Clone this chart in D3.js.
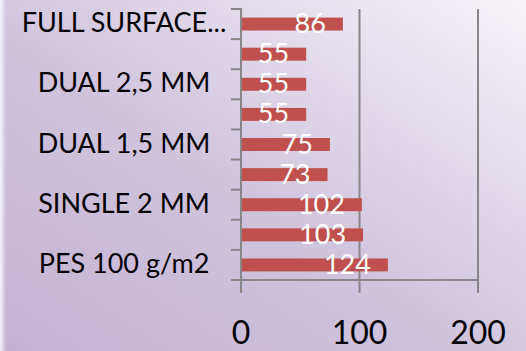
<!DOCTYPE html>
<html>
<head>
<meta charset="utf-8">
<script src="https://cdn.jsdelivr.net/npm/d3@7/dist/d3.min.js"></script>
<style>
  html, body { margin: 0; padding: 0; background: #fff; }
  svg { display: block; }
  text { font-family: Lato, "Open Sans", sans-serif; }
</style>
</head>
<body>
<svg id="chart" width="526" height="351"></svg>
<script>
// Categories listed bottom to top; only every other axis label is shown.
const categories = ["PES 100 g/m2", "", "SINGLE 2 MM", "", "DUAL 1,5 MM", "", "DUAL 2,5 MM", "", "FULL SURFACE..."];
const values = [124, 103, 102, 73, 75, 55, 55, 55, 86];
const xTicks = [0, 100, 200];

const W = 526, H = 351;
const svg = d3.select("#chart");

// Background: diagonal lavender gradient
const defs = svg.append("defs");
const bg = defs.append("linearGradient").attr("id", "bg")
  .attr("x1", "0").attr("y1", "1").attr("x2", "1").attr("y2", "0");
bg.append("stop").attr("offset", "0").attr("stop-color", "#c3b3d3");
bg.append("stop").attr("offset", "0.45").attr("stop-color", "#d0c4dd");
bg.append("stop").attr("offset", "1").attr("stop-color", "#f6f4f8");
svg.append("rect").attr("width", W).attr("height", H).attr("fill", "url(#bg)");

const edge = defs.append("linearGradient").attr("id", "edge")
  .attr("x1", "0").attr("y1", "0").attr("x2", "1").attr("y2", "0");
edge.append("stop").attr("offset", "0").attr("stop-color", "#f4f6fb").attr("stop-opacity", 0.95);
edge.append("stop").attr("offset", "1").attr("stop-color", "#ffffff").attr("stop-opacity", 0);
svg.append("rect").attr("width", 6).attr("height", H).attr("fill", "url(#edge)");

const plot = { left: 241, right: 478, top: 9, bottom: 280 };

const x = d3.scaleLinear().domain([0, 200]).range([plot.left, plot.right]);
const idx = d3.range(categories.length);
const y = d3.scaleBand().domain(idx.slice().reverse())
  .range([plot.top, plot.bottom]).paddingInner(0.57).paddingOuter(0.285);
const step = y.step();

const axisColor = "#878787";

// Vertical gridlines
svg.append("g").selectAll("line").data(xTicks.filter(t => t > 0)).join("line")
  .attr("x1", d => x(d)).attr("x2", d => x(d))
  .attr("y1", plot.top).attr("y2", plot.bottom)
  .attr("stroke", axisColor).attr("stroke-width", 2);

// Bars
svg.append("g").selectAll("rect").data(idx).join("rect")
  .attr("x", x(0))
  .attr("y", i => y(i))
  .attr("width", i => x(values[i]) - x(0))
  .attr("height", y.bandwidth())
  .attr("fill", "#c0504d");

// Value labels
svg.append("g").selectAll("text").data(idx).join("text")
  .attr("x", i => x(values[i]) - 17)
  .attr("y", i => y(i) + y.bandwidth() / 2 + 9)
  .attr("text-anchor", "end")
  .attr("fill", "#ffffff")
  .attr("font-size", 27)
  .text(i => values[i]);

// Category axis with ticks at band boundaries
const boundaries = d3.range(categories.length + 1).map(k => plot.top + k * step);
svg.append("g").selectAll("line").data(boundaries).join("line")
  .attr("x1", plot.left - 10).attr("x2", plot.left)
  .attr("y1", d => d).attr("y2", d => d)
  .attr("stroke", axisColor).attr("stroke-width", 2);
svg.append("line")
  .attr("x1", plot.left).attr("x2", plot.left)
  .attr("y1", plot.top - 1).attr("y2", plot.bottom + 13)
  .attr("stroke", axisColor).attr("stroke-width", 2);

// Value axis
svg.append("line")
  .attr("x1", plot.left - 10).attr("x2", plot.right + 1)
  .attr("y1", plot.bottom).attr("y2", plot.bottom)
  .attr("stroke", axisColor).attr("stroke-width", 2);
svg.append("g").selectAll("line").data(xTicks).join("line")
  .attr("x1", d => x(d)).attr("x2", d => x(d))
  .attr("y1", plot.bottom).attr("y2", plot.bottom + 13)
  .attr("stroke", axisColor).attr("stroke-width", 2);
svg.append("g").selectAll("text").data(xTicks).join("text")
  .attr("x", d => x(d))
  .attr("y", 344)
  .attr("text-anchor", "middle")
  .attr("fill", "#000")
  .attr("font-size", 32)
  .text(d => d);

// Category labels
svg.append("g").selectAll("text").data(idx.filter(i => categories[i] !== "")).join("text")
  .attr("x", 124)
  .attr("y", i => y(i) + y.bandwidth() / 2 + 8)
  .attr("text-anchor", "middle")
  .attr("fill", "#000")
  .attr("font-size", 27)
  .text(i => categories[i]);
</script>
</body>
</html>
